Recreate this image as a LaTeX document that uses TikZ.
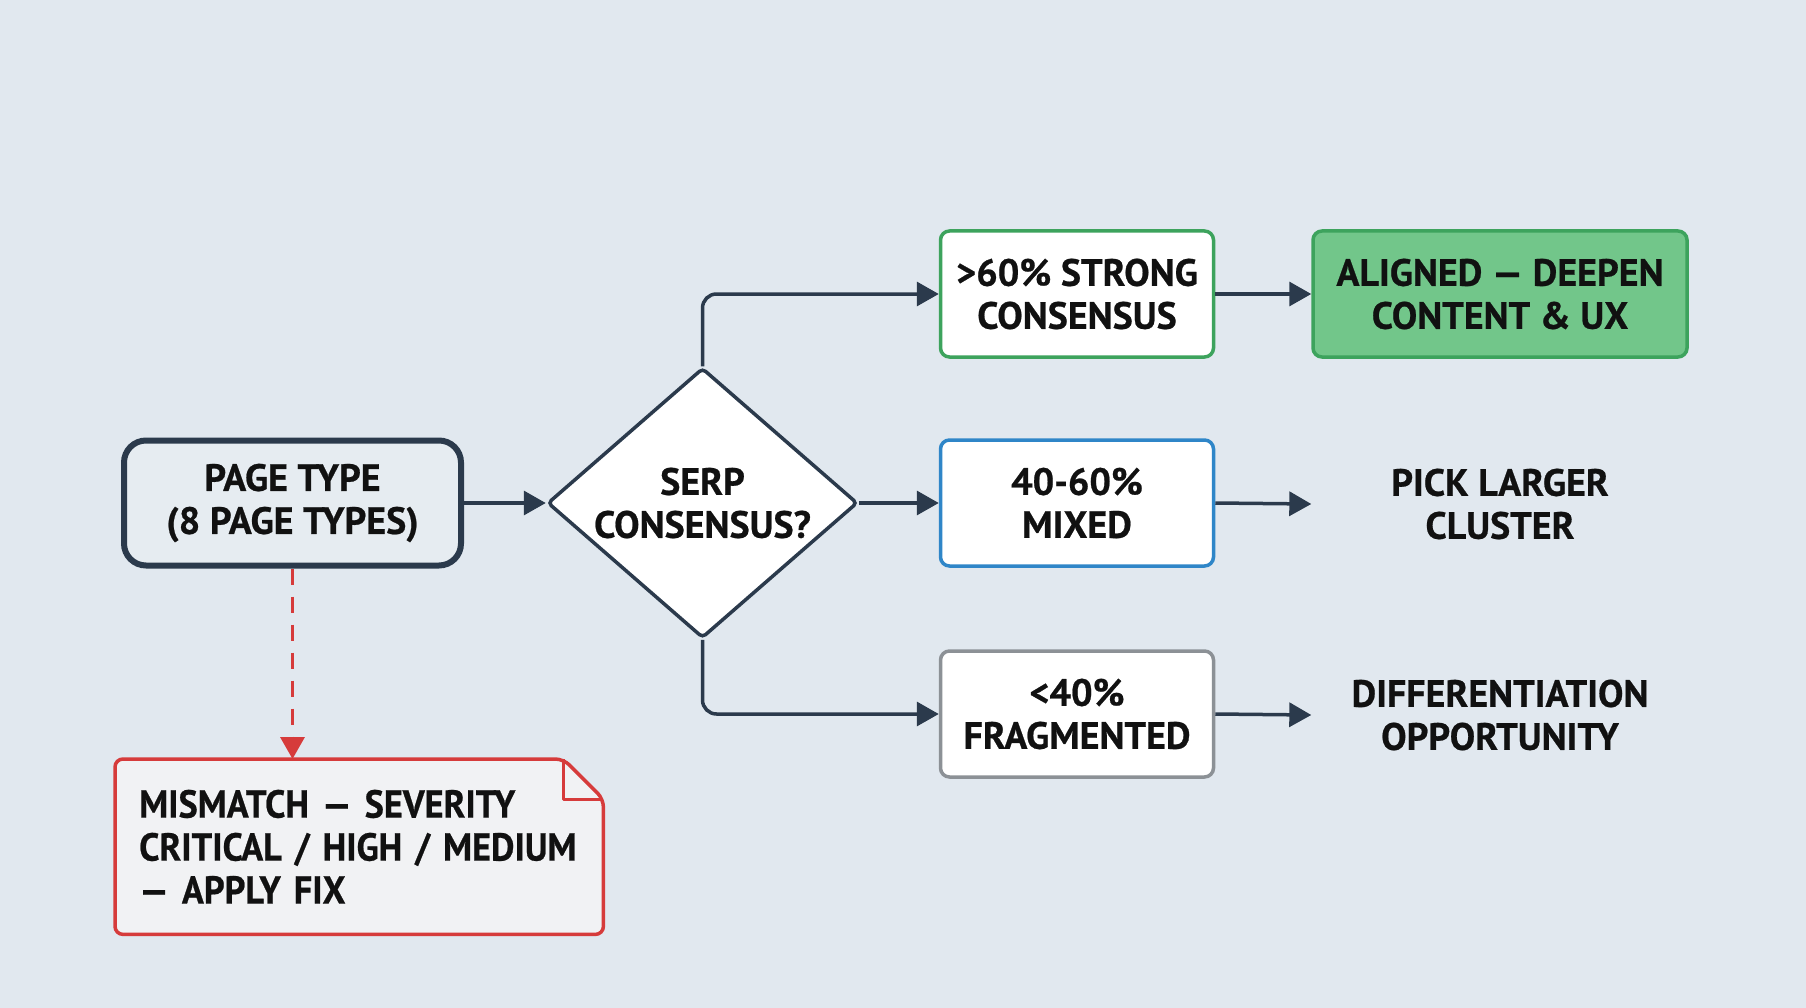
\documentclass[tikz,border=0pt]{standalone}
\usepackage{fontspec}
\newfontfamily\lblfont{PT Sans}[BoldFeatures={FakeBold=0.6}]
\newfontfamily\notefont{PT Sans}[FakeStretch=0.93,BoldFeatures={FakeBold=0.6}]
\usetikzlibrary{arrows.meta,shapes.geometric,backgrounds,calc}
\definecolor{bgc}{HTML}{E1E8EF}
\definecolor{darkc}{HTML}{2B3A4C}
\definecolor{greenb}{HTML}{3DA35D}
\definecolor{greenf}{HTML}{72C68A}
\definecolor{blueb}{HTML}{2F86C8}
\definecolor{grayb}{HTML}{8C9196}
\definecolor{redc}{HTML}{D63B3B}
\definecolor{notef}{HTML}{F1F2F4}
\definecolor{pagef}{HTML}{E6ECF1}
\definecolor{txt}{HTML}{111111}
\tikzset{
  lbl/.style={font=\lblfont\bfseries\fontsize{38}{43}\selectfont, text=txt, align=center, inner sep=0pt},
  pagebox/.style={lbl, draw=darkc, line width=6pt, fill=pagef, rounded corners=22pt, minimum width=337pt, minimum height=125pt},
  catbox/.style={lbl, line width=3.5pt, fill=white, rounded corners=9pt, minimum width=273pt, minimum height=126pt},
  resbox/.style={lbl, minimum width=377pt, minimum height=129pt},
  decision/.style={diamond, draw=darkc, line width=3.5pt, fill=white, inner sep=0pt, minimum width=310pt, minimum height=270pt, rounded corners=4pt},
  conn/.style={draw=darkc, line width=3.5pt, -{Triangle[length=22pt,width=24pt]}, rounded corners=14pt},
  redconn/.style={draw=redc, line width=3.5pt, dash pattern=on 16pt off 12pt, -{Triangle[length=22pt,width=24pt]}},
}
\begin{document}
\begin{tikzpicture}[x=1pt,y=-1pt]
\begin{scope}[on background layer]
\fill[bgc] (0,0) rectangle (1806,1008);
\end{scope}
\useasboundingbox (0,0) rectangle (1806,1008);

\node[pagebox] (page) at (292.5,503) {PAGE TYPE\\(8 PAGE TYPES)};
\node[decision] (dia) at (702.5,503) {};
\node[lbl] (diatext) at (dia.center) {SERP\\CONSENSUS?};

\node[catbox, draw=greenb] (strong) at (1077,294) {>60\% STRONG\\CONSENSUS};
\node[catbox, draw=blueb] (mixed) at (1077,503) {40-60\%\\MIXED};
\node[catbox, draw=grayb] (frag) at (1077,714) {<40\%\\FRAGMENTED};

\node[resbox, draw=greenb, fill=greenf, line width=3.5pt, rounded corners=9pt, minimum width=374pt, minimum height=126pt] (aligned) at (1500,294) {ALIGNED — DEEPEN\\CONTENT \& UX};
\node[resbox] (pick) at (1500,504) {PICK LARGER\\CLUSTER};
\node[resbox] (diff) at (1500,715) {DIFFERENTIATION\\OPPORTUNITY};

\node[lbl, font=\notefont\bfseries\fontsize{39}{43}\selectfont, align=left, text width=440pt, minimum width=485pt, minimum height=175pt, anchor=north west, inner xsep=24pt] (note) at (115,759)
  {MISMATCH — SEVERITY\\CRITICAL / HIGH / MEDIUM\\— APPLY FIX};
\begin{scope}[on background layer]
\draw[redc, line width=3.5pt, fill=notef, rounded corners=8pt]
  (note.south west) -- (note.north west) -- ($(note.north east)+(-40,0)$)
  -- ($(note.north east)+(0,40)$) -- (note.south east) -- cycle;
\draw[redc, line width=3pt, line join=round]
  ($(note.north east)+(-40,0)$) -- ++(0,40) -- ++(40,0);
\end{scope}

\draw[conn] (page.east) -- (dia.west);
\draw[conn] (dia.north) |- (strong.west);
\draw[conn] (dia.east) -- (mixed.west);
\draw[conn] (dia.south) |- (frag.west);
\draw[conn] (strong.east) -- (aligned.west);
\draw[conn] (mixed.east) -- (pick.west);
\draw[conn] (frag.east) -- (diff.west);
\draw[redconn] (page.south) -- (page.south |- note.north);
\end{tikzpicture}
\end{document}
